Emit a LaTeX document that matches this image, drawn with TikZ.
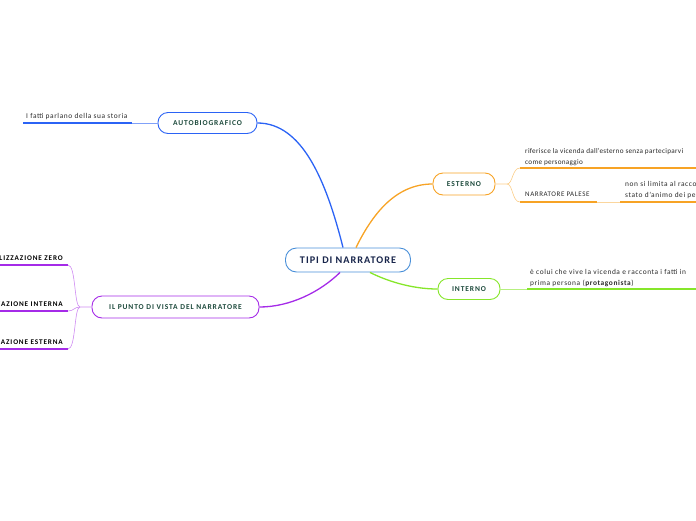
\documentclass[tikz,border=0pt]{standalone}
\usepackage{fontspec}
\setmainfont{Carlito}
\definecolor{cblue}{HTML}{2B63F5}
\definecolor{corange}{HTML}{F7A325}
\definecolor{cgreen}{HTML}{86E62A}
\definecolor{cpurple}{HTML}{A52BE8}
\definecolor{ccentral}{HTML}{4A90D9}
\definecolor{ctext}{HTML}{1D4A3C}
\definecolor{cnavy}{HTML}{17244A}
\definecolor{cleaf}{HTML}{2A2A2A}
\tikzset{
 topic/.style={draw, fill=white, rounded corners=10pt, line width=0.9pt, minimum height=21pt, font=\fontsize{7.5}{9}\selectfont\bfseries\addfontfeature{LetterSpace=12}, text=ctext, inner sep=0pt},
 leaf/.style={font=\fontsize{7.4}{11}\selectfont\addfontfeature{LetterSpace=8}, text=cleaf, inner sep=0pt, align=left},
 bleaf/.style={font=\fontsize{7.2}{11}\selectfont\bfseries\addfontfeature{LetterSpace=12}, text=black, inner sep=0pt},
 conn/.style={line width=1.3pt},
 uline/.style={line width=1.4pt},
 thinl/.style={line width=0.6pt},
}
\begin{document}
\begin{tikzpicture}[x=1pt,y=-1pt]
\useasboundingbox (0,0) rectangle (696,520);
% main topics
\node[topic, draw=ccentral, minimum width=125pt, minimum height=24pt, font=\fontsize{10.2}{11}\selectfont\bfseries\addfontfeature{LetterSpace=10}, text=cnavy, rounded corners=11pt] (c) at (348,260) {TIPI DI NARRATORE};
\node[topic, draw=cblue, minimum width=99pt] (auto) at (207.5,123) {AUTOBIOGRAFICO};
\node[topic, draw=corange, minimum width=62pt, minimum height=22pt] (est) at (464,184) {ESTERNO};
\node[topic, draw=cgreen, minimum width=62pt] (int) at (469,289) {INTERNO};
\node[topic, draw=cpurple, minimum width=167pt, minimum height=22pt] (pv) at (175.5,307) {IL PUNTO DI VISTA DEL NARRATORE};
% main connectors
\draw[conn, cblue] ([xshift=-5pt]c.north) .. controls (326,180) and (302,123) .. (auto.east);
\draw[conn, corange] ([xshift=8pt]c.north) .. controls (372,215) and (395,184) .. (est.west);
\draw[conn, cgreen] ([xshift=22pt]c.south) .. controls (385,280) and (410,289) .. (int.west);
\draw[conn, cpurple] ([xshift=-8pt]c.south) .. controls (320,292) and (290,307) .. (pv.east);
% AUTOBIOGRAFICO leaf
\coordinate (a1s) at (23,123);
\coordinate (a1e) at (132,123);
\node[leaf, anchor=base west] (a1t) at (26,118) {I fatti parlano della sua storia};
\draw[uline, cblue] (a1s) -- (a1e);
\draw[thinl, cblue!60] (a1e) -- (auto.west);
% ESTERNO leaves
\coordinate (e1s) at (520,168);
\coordinate (e1e) at (696,168);
\coordinate (e2s) at (520,202);
\coordinate (e2e) at (597,202);
\coordinate (e3s) at (620,202);
\coordinate (e3e) at (696,202);
\coordinate (ej) at (507,184);
\node[leaf, anchor=south west, font=\fontsize{7.2}{11}\selectfont\addfontfeature{LetterSpace=4}] (e1t) at (525,166) {riferisce la vicenda dall'esterno senza parteciparvi\\come personaggio};
\node[leaf, anchor=base west, font=\fontsize{7}{11}\selectfont\addfontfeature{LetterSpace=8}] (e2t) at (525,196) {NARRATORE PALESE};
\node[leaf, anchor=south west] (e3t) at (625,199) {non si limita al racconto dei fatti ma ne esprime lo\\stato d'animo dei personaggi};
\draw[thinl, corange!55] (est.east) -- (ej) .. controls (513,184) and (512,168) .. (e1s);
\draw[thinl, corange!55] (ej) .. controls (513,184) and (512,202) .. (e2s);
\draw[uline, corange] (e1s) -- (e1e);
\draw[uline, corange] (e2s) -- (e2e);
\draw[thinl, corange!45, line width=1pt] (e2e) -- (e3s);
\draw[uline, corange] (e3s) -- (e3e);
% INTERNO leaf
\coordinate (i1s) at (527,289);
\coordinate (i1e) at (696,289);
\node[leaf, anchor=south west] (i1t) at (530,287) {è colui che vive la vicenda e racconta i fatti in\\prima persona (\textbf{protagonista})};
\draw[thinl, cgreen!60] (int.east) -- (i1s);
\draw[uline, cgreen] (i1s) -- (i1e);
% PUNTO DI VISTA leaves
\coordinate (pj) at (80,307);
\coordinate (p1e) at (68,265);
\coordinate (p2e) at (68,311);
\coordinate (p3e) at (68,349);
\node[bleaf, anchor=base east] (p1t) at (63,260) {FOCALIZZAZIONE ZERO};
\node[bleaf, anchor=base east] (p2t) at (63,306) {FOCALIZZAZIONE INTERNA};
\node[bleaf, anchor=base east] (p3t) at (63,344) {FOCALIZZAZIONE ESTERNA};
\draw[thinl, cpurple!55] (pv.west) -- (pj) .. controls (74,307) and (76,265) .. (p1e);
\draw[thinl, cpurple!55] (pj) .. controls (74,307) and (74,311) .. (p2e);
\draw[thinl, cpurple!55] (pj) .. controls (74,307) and (76,349) .. (p3e);
\draw[uline, cpurple] (p1e) -- (0,265);
\draw[uline, cpurple] (p2e) -- (0,311);
\draw[uline, cpurple] (p3e) -- (0,349);
\end{tikzpicture}
\end{document}
